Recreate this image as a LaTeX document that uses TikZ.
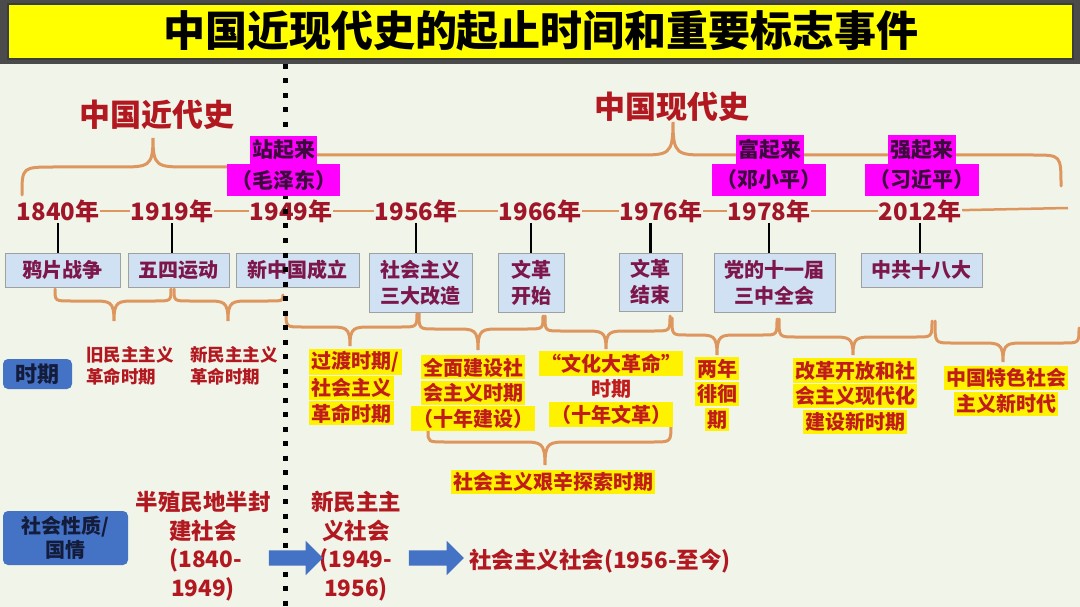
\documentclass[tikz,border=0pt]{standalone}
\usepackage{fontspec}
\setmainfont{Noto Sans CJK SC}
\usetikzlibrary{shapes.arrows}
\definecolor{bg}{RGB}{241,244,232}
\definecolor{band}{RGB}{75,75,75}
\definecolor{ttl}{RGB}{255,255,0}
\definecolor{tred}{RGB}{178,24,32}
\definecolor{yred}{RGB}{160,22,40}
\definecolor{hred}{RGB}{192,28,28}
\definecolor{evtext}{RGB}{125,22,75}
\definecolor{boxfill}{RGB}{207,225,242}
\definecolor{boxline}{RGB}{160,160,160}
\definecolor{mag}{RGB}{255,0,255}
\definecolor{magtext}{RGB}{60,10,60}
\definecolor{orng}{RGB}{222,150,95}
\definecolor{ablue}{RGB}{68,114,196}
\definecolor{navy}{RGB}{20,28,60}
\newcommand\myfs[2]{\fontsize{#1}{#2}\selectfont}
\newcommand\hl[1]{\colorbox{yellow}{#1}}
\setlength{\fboxsep}{2.4pt}
\newcommand\brc[8]{\draw[bracestyle] (#1,#2) .. controls (#1,#7) and (#1,#7) .. (#1+#8,#7) -- (#5-#8-6,#7) .. controls (#5-4,#7) and (#5,#7) .. (#5,#6) .. controls (#5,#7) and (#5+4,#7) .. (#5+#8+6,#7) -- (#3-#8,#7) .. controls (#3,#7) and (#3,#7) .. (#3,#4);}
\begin{document}
\begin{tikzpicture}[x=1pt,y=-1pt,
  titlestyle/.style={font=\bfseries\myfs{42}{42}, text=black, inner sep=0pt},
  era/.style={font=\bfseries\myfs{31}{31}, text=tred, inner sep=0pt},
  yr/.style={font=\bfseries\myfs{24}{24}, text=yred, inner sep=0pt, outer sep=1pt},
  yline/.style={draw=orng, line width=2.5pt},
  tick/.style={draw=black, line width=2.5pt},
  ev/.style={draw=boxline, line width=1pt, fill=boxfill, text=evtext, font=\bfseries\myfs{20}{26}, align=center, inner sep=0pt},
  mg/.style={fill=mag, text=magtext, font=\bfseries\myfs{21}{21}, inner sep=0pt},
  bracestyle/.style={draw=orng, line width=3pt, line cap=round},
  dotline/.style={draw=black, line width=5pt, dash pattern=on 5pt off 9.5pt},
  hlt/.style={text=hred, font=\bfseries\myfs{20}{25.5}, align=center, inner sep=0pt},
  redtxt/.style={text=tred, font=\bfseries\myfs{17.5}{22.5}, align=left, inner sep=0pt},
  bigred/.style={text=tred, font=\bfseries\myfs{22.5}{28.5}, align=center, inner sep=0pt},
  lbl/.style={fill=ablue, rounded corners=5pt, text=navy, align=center, inner sep=0pt},
  barrow/.style={single arrow, fill=ablue, draw=none, inner xsep=0pt, inner ysep=7.5pt, text height=0pt, text depth=0pt, single arrow head extend=9.5pt, minimum width=34pt}
]
\useasboundingbox (0,0) rectangle (1080,607);
\fill[bg] (0,0) rectangle (1080,607);
% title band
\fill[band] (0,0) rectangle (1080,64);
\filldraw[fill=ttl, draw=band!80!black, line width=2pt] (8,4) rectangle (1073,59);
\node[titlestyle] (title) at (541,31) {中国近现代史的起止时间和重要标志事件};

% era labels
\node[era] (jindai) at (157,115) {中国近代史};
\node[era] (xiandai) at (672,107) {中国现代史};

% top braces
\draw[bracestyle] (22,195) .. controls (22,167) and (22,167) .. (55,167) -- (118,167) .. controls (149,167) and (153,167) .. (153,138) .. controls (153,167) and (157,167) .. (188,167) -- (245,167);
\draw[bracestyle] (300,155) -- (638,155) .. controls (669,155) and (673,155) .. (673,122) .. controls (673,155) and (677,155) .. (708,155) -- (1033,155) .. controls (1061,155) and (1061,155) .. (1061,186);

% lower braces
\brc{55}{289}{171}{289}{114}{321}{301}{16}
\brc{174}{289}{283}{295}{228}{321}{301}{16}
\brc{286}{312}{417}{312}{350}{346}{327}{16}
\brc{419}{313}{543}{316}{478}{350}{329}{16}
\brc{545}{316}{670}{316}{606}{349}{331}{16}
\brc{672}{318}{777}{319}{717}{355}{335}{14}
\brc{779}{319}{932}{321}{853}{355}{337}{16}
\brc{935}{321}{1079}{328}{1003}{362}{343}{16}
\brc{428}{431}{671}{424}{545}{465}{442}{18}

% years
\node[yr] (y1840) at (58,211) {1840年};
\node[yr] (y1919) at (172,211) {1919年};
\node[yr] (y1949) at (291,211) {1949年};
\node[yr] (y1956) at (416,211) {1956年};
\node[yr] (y1966) at (540,211) {1966年};
\node[yr] (y1976) at (661,211) {1976年};
\node[yr] (y1978) at (769,211) {1978年};
\node[yr] (y2012) at (920,211) {2012年};
\coordinate (lend) at (1068,208);
\draw[yline] (y1840) -- (y1919);
\draw[yline] (y1919) -- (y1949);
\draw[yline] (y1949) -- (y1956);
\draw[yline] (y1956) -- (y1966);
\draw[yline] (y1966) -- (y1976);
\draw[yline] (y1976) -- (y1978);
\draw[yline] (y1978) -- (y2012);
\draw[yline] (y2012) -- (lend);

% event boxes
\node[ev, minimum width=115pt, minimum height=34pt] (b1) at (62.5,270) {鸦片战争};
\node[ev, minimum width=101pt, minimum height=34pt] (b2) at (178.5,270) {五四运动};
\node[ev, minimum width=123pt, minimum height=34pt] (b3) at (297.5,270) {新中国成立};
\node[ev, minimum width=103pt, minimum height=59pt] (b4) at (420.5,282.5) {社会主义\\三大改造};
\node[ev, minimum width=66pt, minimum height=59pt] (b5) at (531,282.5) {文革\\开始};
\node[ev, minimum width=63pt, minimum height=58pt] (b6) at (650.5,282) {文革\\结束};
\node[ev, minimum width=121pt, minimum height=59pt] (b7) at (774.5,282.5) {党的十一届\\三中全会};
\node[ev, minimum width=121pt, minimum height=34pt] (b8) at (921.5,270) {中共十八大};

% ticks
\draw[tick] (y1840.south) -- (y1840.south |- b1.north);
\draw[tick] (y1919.south) -- (y1919.south |- b2.north);
\draw[tick] (y1956.south) -- (y1956.south |- b4.north);
\draw[tick] (b5.north |- y1966.south) -- (b5.north);
\draw[tick] (b6.north |- y1976.south) -- (b6.north);
\draw[tick] (y1978.south) -- (y1978.south |- b7.north);
\draw[tick] (y2012.south) -- (y2012.south |- b8.north);

% dotted divider
\coordinate (dtop) at (285,64);
\coordinate (dbot) at (285,607);
\draw[dotline] (dtop) -- (dbot);

% magenta labels
\node[mg, minimum width=67pt, minimum height=28pt] (zq) at (283.5,150) {站起来};
\node[mg, minimum width=113pt, minimum height=32pt] (mzd) at (283.5,180) {（毛泽东）};
\node[mg, minimum width=68pt, minimum height=29pt] (fq) at (770,149.5) {富起来};
\node[mg, minimum width=114pt, minimum height=32pt] (dxp) at (769,180) {（邓小平）};
\node[mg, minimum width=68pt, minimum height=29pt] (qq) at (922,149.5) {强起来};
\node[mg, minimum width=114pt, minimum height=32pt] (xjp) at (922,180) {（习近平）};

% period labels
\node[lbl, minimum width=69pt, minimum height=30pt, font=\bfseries\myfs{22}{22}] (shiqi) at (37.5,374) {时期};
\node[redtxt, anchor=north west] (jiu) at (86,346) {旧民主主义\\革命时期};
\node[redtxt, anchor=north west] (xin) at (190,346) {新民主主义\\革命时期};
\node[hlt, anchor=north west, align=left] (p1) at (309,349) {\hl{过渡时期/}\\\hl{社会主义}\\\hl{革命时期}};
\node[hlt] (p2) at (473,393) {\hl{全面建设社}\\\hl{会主义时期}\\\hl{（十年建设）}};
\node[hlt] (p3) at (611,389) {\hl{“文化大革命”}\\时期\\\hl{（十年文革）}};
\node[hlt] (p4) at (717,394) {\hl{两年}\\\hl{徘徊}\\\hl{期}};
\node[hlt] (p5) at (855,396) {\hl{改革开放和社}\\\hl{会主义现代化}\\\hl{建设新时期}};
\node[hlt] (p6) at (1006,391) {\hl{中国特色社会}\\\hl{主义新时代}};
\node[hlt] (p7) at (553,482) {\hl{社会主义艰辛探索时期}};

% society nature
\node[lbl, minimum width=125pt, minimum height=54pt, font=\bfseries\myfs{20}{24}] (shehui) at (65.5,538) {社会性质/\\国情};
\node[bigred] (s1) at (203,546) {半殖民地半封\\建社会\\\ (1840-\\1949)};
\node[bigred] (s2) at (356,546) {新民主主\\义社会\\(1949-\\1956)};
\node[bigred, anchor=west] (s3) at (469,561) {社会主义社会(1956-至今)};
\node[barrow, minimum height=54pt] (a1) at (292,558) {};
\node[barrow, minimum height=55pt] (a2) at (432.5,558) {};
\end{tikzpicture}
\end{document}
